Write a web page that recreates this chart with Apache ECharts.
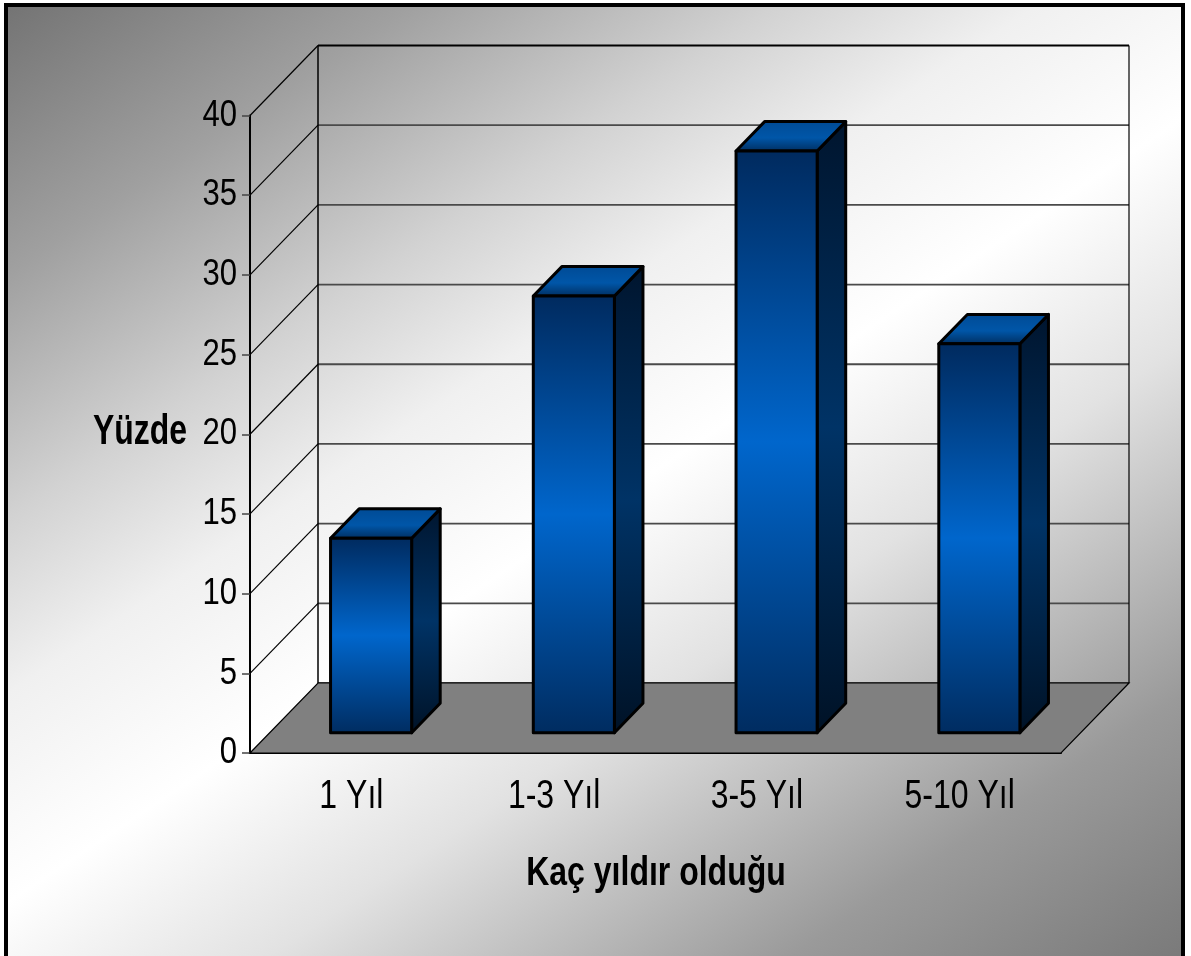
<!DOCTYPE html>
<html>
<head>
<meta charset="utf-8">
<script src="https://cdn.jsdelivr.net/npm/echarts@6/dist/echarts.min.js"></script>
<style>
  html, body { margin: 0; padding: 0; }
  #chart { width: 1191px; height: 956px; }
</style>
</head>
<body>
<div id="chart"></div>
<script>
// chart data
const categories = ['1 Yıl', '1-3 Yıl', '3-5 Yıl', '5-10 Yıl'];
const values = [12.2, 27.4, 36.5, 24.4];
const yTicks = [0, 5, 10, 15, 20, 25, 30, 35, 40];

const FONT = "'Liberation Sans', Arial, sans-serif";
// depth of the 3d box (pixels)
const DX = 68, DY = 70;
const F1 = 0.29, F2 = 0.71;

const myChart = echarts.init(document.getElementById('chart'));

function grad(stops) {
  return new echarts.graphic.LinearGradient(0, 0, 0, 1, stops);
}

// grid lines on back and left wall
function renderWalls(params, api) {
  const cs = params.coordSys;
  const v = api.value(0);
  const y = api.coord([0, v])[1];
  const x0 = cs.x, x1 = cs.x + cs.width;
  const children = [];
  if (v > 0) {
    children.push({ type: 'line', shape: { x1: x0, y1: y, x2: x0 + DX, y2: y - DY },
      style: { stroke: '#000', lineWidth: 1.2 } });
  }
  children.push({ type: 'line', shape: { x1: x0 + DX, y1: y - DY, x2: x1 + DX, y2: y - DY },
    style: { stroke: v === 40 ? '#000' : '#4a4a4a', lineWidth: 1.8 } });
  // narrow tick label
  children.push({ type: 'text', x: x0 - 13, y: y, scaleX: 0.84,
    style: { text: String(v), font: '37px ' + FONT, fill: '#000', align: 'right', verticalAlign: 'middle' } });
  return { type: 'group', children: children };
}

// floor + back wall edges
function renderFloor(params, api) {
  const cs = params.coordSys;
  const x0 = cs.x, x1 = cs.x + cs.width;
  const y0 = api.coord([0, 0])[1];
  const yT = api.coord([0, 40])[1];
  return {
    type: 'group',
    children: [
      { type: 'line', shape: { x1: x0 + DX, y1: y0 - DY, x2: x0 + DX, y2: yT - DY },
        style: { stroke: '#000', lineWidth: 1.5 } },
      { type: 'line', shape: { x1: x1 + DX, y1: y0 - DY, x2: x1 + DX, y2: yT - DY },
        style: { stroke: '#000', lineWidth: 1.2 } },
      { type: 'polygon',
        shape: { points: [[x0, y0], [x0 + DX, y0 - DY], [x1 + DX, y0 - DY], [x1, y0]] },
        style: { fill: '#808080', stroke: '#000', lineWidth: 1.2 } }
    ]
  };
}

// 3d bar + category label
function renderBar(params, api) {
  const i = api.value(0);
  const p0 = api.coord([i, 0]);
  const p1 = api.coord([i, api.value(1)]);
  const bw = api.size([1, 0])[0] * 0.4;
  const l = p0[0] - bw / 2 + F1 * DX;
  const r = l + bw;
  const b = p0[1] - F1 * DY;
  const t = p1[1] - F1 * DY;
  const ox = (F2 - F1) * DX, oy = (F2 - F1) * DY;
  const line = { stroke: '#000', lineWidth: 3, lineJoin: 'round' };
  return {
    type: 'group',
    children: [
      { type: 'polygon', shape: { points: [[r, b], [r, t], [r + ox, t - oy], [r + ox, b - oy]] },
        style: Object.assign({ fill: grad([
          { offset: 0, color: '#00152e' }, { offset: 0.5, color: '#003366' }, { offset: 1, color: '#001226' }]) }, line) },
      { type: 'polygon', shape: { points: [[l, t], [l + ox, t - oy], [r + ox, t - oy], [r, t]] },
        style: Object.assign({ fill: grad([
          { offset: 0, color: '#004a94' }, { offset: 0.55, color: '#0056a8' }, { offset: 1, color: '#002c5c' }]) }, line) },
      { type: 'polygon', shape: { points: [[l, b], [l, t], [r, t], [r, b]] },
        style: Object.assign({ fill: grad([
          { offset: 0, color: '#002a5e' }, { offset: 0.5, color: '#0066cc' }, { offset: 1, color: '#002c60' }]) }, line) },
      { type: 'text', x: p0[0], y: p0[1] + 44, scaleX: 0.8,
        style: { text: categories[i], font: '40px ' + FONT, fill: '#000', align: 'center', verticalAlign: 'middle' } }
    ]
  };
}

const option = {
  animation: false,
  graphic: [
    {
      type: 'rect', z: -10, silent: true,
      shape: { x: 6, y: 5, width: 1177, height: 960 },
      style: {
        fill: new echarts.graphic.LinearGradient(0, 0, 806, 1208, [
          { offset: 0, color: '#727272' },
          { offset: 0.16, color: '#a0a0a0' },
          { offset: 0.3, color: '#d2d2d2' },
          { offset: 0.4, color: '#f0f0f0' },
          { offset: 0.52, color: '#ffffff' },
          { offset: 0.65, color: '#e2e2e2' },
          { offset: 0.85, color: '#9a9a9a' },
          { offset: 1, color: '#7a7a7a' }
        ], true),
        stroke: '#000', lineWidth: 4
      }
    },
    {
      type: 'text', z: 10, x: 140, y: 432, scaleX: 0.76,
      style: { text: 'Yüzde', font: 'bold 42px ' + FONT, fill: '#000', align: 'center', verticalAlign: 'middle' }
    },
    {
      type: 'text', z: 10, x: 656, y: 874, scaleX: 0.8,
      style: { text: 'Kaç yıldır olduğu', font: 'bold 40px ' + FONT, fill: '#000',
        align: 'center', verticalAlign: 'middle' }
    }
  ],
  grid: { left: 250, right: 130, top: 115.5, bottom: 203, containLabel: false },
  xAxis: {
    type: 'category',
    data: categories,
    axisLine: { lineStyle: { color: '#000', width: 2 } },
    axisTick: { length: 10, lineStyle: { color: '#444', width: 1.5 } },
    axisLabel: { show: false },
    splitLine: { show: false }
  },
  yAxis: {
    type: 'value',
    min: 0, max: 40, interval: 5,
    axisLine: { show: true, lineStyle: { color: '#000', width: 2 } },
    axisTick: { show: true, length: 8, lineStyle: { color: '#444', width: 1.5 } },
    axisLabel: { show: false },
    splitLine: { show: false }
  },
  series: [
    {
      type: 'custom', clip: false, silent: true, z: 1,
      data: yTicks.map(v => [v]),
      renderItem: renderWalls
    },
    {
      type: 'custom', clip: false, silent: true, z: 1,
      data: [[0]],
      renderItem: renderFloor
    },
    {
      type: 'custom', clip: false, z: 3,
      data: values.map((v, i) => [i, v]),
      encode: { x: 0, y: 1 },
      renderItem: renderBar
    }
  ]
};

myChart.setOption(option);
</script>
</body>
</html>
